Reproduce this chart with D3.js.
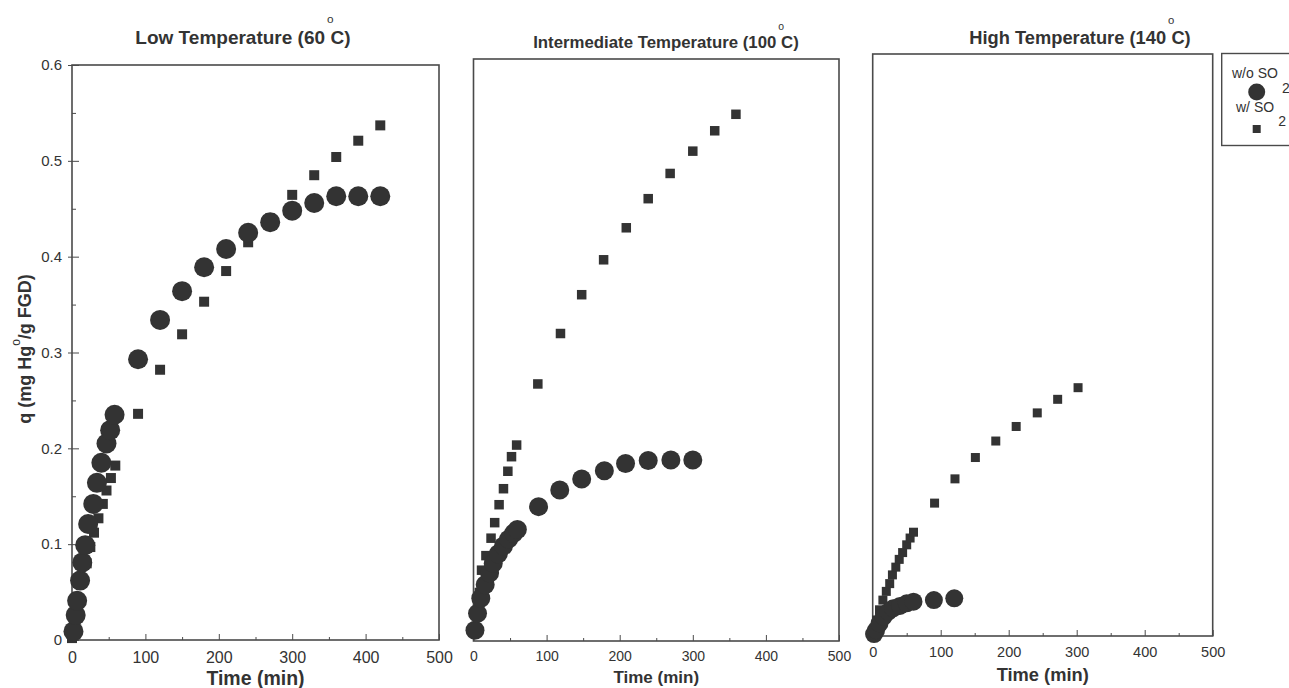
<!DOCTYPE html>
<html><head><meta charset="utf-8">
<script src="https://cdn.jsdelivr.net/npm/d3@7"></script>
<style>
body{margin:0;background:#fff}
svg{display:block}
text{font-family:"Liberation Sans",Arial,sans-serif;fill:#333}
</style>
</head><body>
<svg id="chart" width="1289" height="688"></svg>
<script>
// ---------- data ----------
const lowCircleT = [2,5,7,11,14,18,22,29,34,40,47,52,58,90,120,150,180,210,240,270,300,330,360,390,420];
const lowCircleQ = [0.009,0.026,0.041,0.062,0.081,0.099,0.121,0.142,0.164,0.185,0.205,0.219,0.235,0.293,0.334,0.364,0.389,0.408,0.425,0.436,0.448,0.456,0.463,0.463,0.463];
const lowSquareT = [0,5,10,15,20,25,30,36,42,47,53,59,90,120,150,180,210,240,270,300,330,360,390,420];
const lowSquareQ = [0.002,0.022,0.042,0.062,0.08,0.097,0.112,0.127,0.142,0.156,0.169,0.182,0.236,0.282,0.319,0.353,0.385,0.415,0.44,0.4645,0.485,0.504,0.521,0.537];

const midCircleT = [2,5.5,10,16,22,27,34,41,48,55,60,89,118,148,179,208,239,270,300];
const midCircleQ = [0.011,0.0285,0.044,0.058,0.07,0.08,0.09,0.098,0.105,0.111,0.115,0.1385,0.1557,0.167,0.1756,0.183,0.186,0.1866,0.1866];
const midSquareT = [2,5,8,11,17,24,29,35,41,47,52,59,88,119,148,178,209,239,269,300,330,359];
const midSquareQ = [0.01,0.03,0.05,0.073,0.088,0.106,0.122,0.1405,0.157,0.175,0.19,0.202,0.265,0.317,0.357,0.393,0.426,0.456,0.482,0.505,0.526,0.543];

const highCircleT = [2,5,10,16,23,30,40,50,60,90,120];
const highCircleQ = [0.002,0.006,0.013,0.02,0.025,0.0285,0.031,0.0337,0.0354,0.0371,0.0389];
const highSquareT = [2,6,10,15,20,25,29,34,39,44,50,55,60,91,121,151,181,211,242,272,302];
const highSquareQ = [0.006,0.0165,0.027,0.037,0.046,0.054,0.063,0.071,0.079,0.086,0.094,0.101,0.107,0.137,0.162,0.184,0.201,0.216,0.23,0.244,0.256];

const xTickValues = [0,100,200,300,400,500];
const xMinorValues = [50,150,250,350,450];
const yTickValues = [0,0.1,0.2,0.3,0.4,0.5,0.6];
const yTickLabels = ["0","0.1","0.2","0.3","0.4","0.5","0.6"];
const yMinorValues = [0.05,0.15,0.25,0.35,0.45,0.55];

const titles = [["Low Temperature (60","C)"],["Intermediate Temperature (100","C)"],["High Temperature (140","C)"]];
const xAxisTitle = "Time (min)";
const legendLabels = ["w/o SO","w/ SO"];

// ---------- layout ----------
const panels = [
  {title:titles[0], x0:72, x1:439, yTop:65, yBot:640, cT:lowCircleT, cQ:lowCircleQ, sT:lowSquareT, sQ:lowSquareQ,
   r:10, s:10, titleX:243, titleY:44, titleSize:19, tickSize:16, tickY:663, timeY:685, timeSize:19.5, yLabels:true},
  {title:titles[1], x0:473.5, x1:839, yTop:59, yBot:641, cT:midCircleT, cQ:midCircleQ, sT:midSquareT, sQ:midSquareQ,
   r:9.5, s:9.5, titleX:666, titleY:48, titleSize:16.8, tickSize:14, tickY:661, timeY:683, timeSize:17, yLabels:false},
  {title:titles[2], x0:872.7, x1:1212.7, yTop:54, yBot:636, cT:highCircleT, cQ:highCircleQ, sT:highSquareT, sQ:highSquareQ,
   r:9, s:9, titleX:1080, titleY:44, titleSize:18.3, tickSize:14.5, tickY:657, timeY:681, timeSize:18.3, yLabels:false}
];

const svg = d3.select("#chart");
const ink = "#333";
const frame = "#4a4a4a";

panels.forEach((p, i) => {
  const x = d3.scaleLinear().domain([0,500]).range([p.x0, p.x1]);
  const y = d3.scaleLinear().domain([0,0.6]).range([p.yBot, p.yTop]);
  const g = svg.append("g");

  // x axis (ticks inside)
  const xAx = g.append("g").attr("transform", `translate(0,${p.yBot})`)
    .call(d3.axisBottom(x).tickValues(xTickValues).tickSize(-6).tickFormat(d3.format("d")).tickPadding(14));
  xAx.select(".domain").remove();
  xAx.selectAll("line").attr("stroke", frame);
  xAx.selectAll("text").attr("font-size", p.tickSize).attr("fill", ink).attr("dy", null).attr("y", p.tickY - p.yBot);
  const xMin = g.append("g").attr("transform", `translate(0,${p.yBot})`)
    .call(d3.axisBottom(x).tickValues(xMinorValues).tickSize(-3).tickFormat(""));
  xMin.select(".domain").remove();
  xMin.selectAll("line").attr("stroke", frame);

  if (p.yLabels) {
    const yAx = g.append("g").attr("transform", `translate(${p.x0},0)`)
      .call(d3.axisLeft(y).tickValues(yTickValues).tickSize(4).tickFormat((d,k) => yTickLabels[k]).tickPadding(6));
    yAx.select(".domain").remove();
    yAx.selectAll("line").attr("stroke", frame).attr("x2", -4).attr("x1", 7);
    yAx.selectAll("text").attr("font-size", 15).attr("fill", ink);
    const yMin = g.append("g").attr("transform", `translate(${p.x0},0)`)
      .call(d3.axisLeft(y).tickValues(yMinorValues).tickSize(-4).tickFormat(""));
    yMin.select(".domain").remove();
    yMin.selectAll("line").attr("stroke", frame);
  }

  // frame
  g.append("rect").attr("x", p.x0).attr("y", p.yTop).attr("width", p.x1 - p.x0).attr("height", p.yBot - p.yTop)
    .attr("fill", "none").attr("stroke", frame).attr("stroke-width", 1.6);

  // squares (w/ SO2)
  g.append("g").selectAll("rect").data(p.sT.map((t,k) => [t, p.sQ[k]])).join("rect")
    .attr("x", d => x(d[0]) - p.s/2).attr("y", d => y(d[1]) - p.s/2)
    .attr("width", p.s).attr("height", p.s).attr("fill", ink);
  // circles (w/o SO2)
  g.append("g").selectAll("circle").data(p.cT.map((t,k) => [t, p.cQ[k]])).join("circle")
    .attr("cx", d => x(d[0])).attr("cy", d => y(d[1])).attr("r", p.r).attr("fill", ink);

  // title with degree sign
  const tt = g.append("text").attr("x", p.titleX).attr("y", p.titleY).attr("text-anchor", "middle")
    .attr("font-size", p.titleSize).attr("font-weight", "bold");
  tt.append("tspan").text(p.title[0]);
  tt.append("tspan").text("o").attr("font-size", p.titleSize * 0.62).attr("font-weight", "normal").attr("dy", -p.titleSize * 1.1).attr("dx", 2);
  tt.append("tspan").text(p.title[1]).attr("dy", p.titleSize * 1.1).attr("dx", -3);

  // x title
  g.append("text").attr("x", (p.x0 + p.x1) / 2).attr("y", p.timeY).attr("text-anchor", "middle")
    .attr("font-size", p.timeSize).attr("font-weight", "bold").text(xAxisTitle);
});

// y axis title
const yt = svg.append("text").attr("transform", "translate(31,349) rotate(-90)")
  .attr("text-anchor", "middle").attr("font-size", 18).attr("font-weight", "bold");
yt.append("tspan").text("q (mg Hg");
yt.append("tspan").text("o").attr("font-size", 12).attr("font-weight", "normal").attr("dy", -11);
yt.append("tspan").text("/g FGD)").attr("dy", 11);

// legend
const lg = svg.append("g");
lg.append("rect").attr("x", 1221.7).attr("y", 53.5).attr("width", 80).attr("height", 92)
  .attr("fill", "none").attr("stroke", frame).attr("stroke-width", 1.4);
const l1 = lg.append("text").attr("x", 1232).attr("y", 78).attr("font-size", 14);
l1.append("tspan").text(legendLabels[0]);
l1.append("tspan").text("2").attr("dx", 4).attr("dy", 15);
lg.append("circle").attr("cx", 1256.7).attr("cy", 92).attr("r", 8.5).attr("fill", ink);
const l2 = lg.append("text").attr("x", 1236).attr("y", 112).attr("font-size", 14);
l2.append("tspan").text(legendLabels[1]);
l2.append("tspan").text("2").attr("dx", 4).attr("dy", 14);
lg.append("rect").attr("x", 1256.7 - 4).attr("y", 129 - 4).attr("width", 8).attr("height", 8).attr("fill", ink);
</script>
</body></html>
